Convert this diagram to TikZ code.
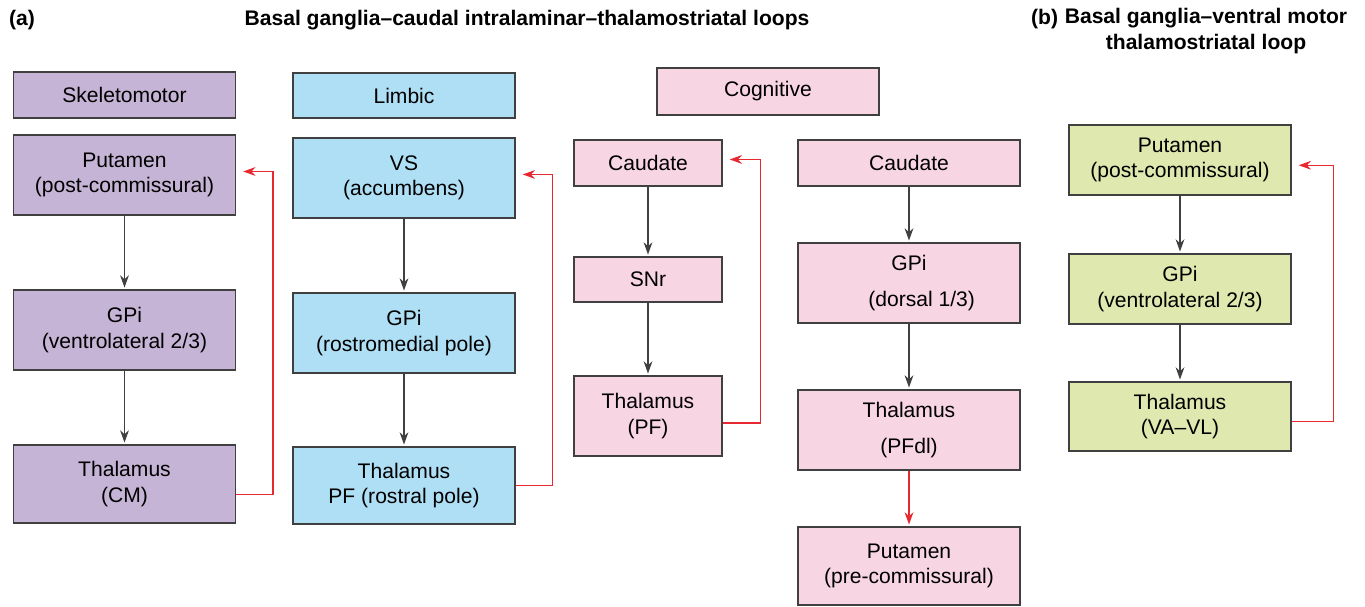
\documentclass[tikz,border=0pt]{standalone}
\usepackage{fontspec}
\setmainfont{Liberation Sans}
\usepackage{tikz}
\usetikzlibrary{positioning, arrows, arrows.meta}

\definecolor{skelcol}{RGB}{198,180,214}
\definecolor{limbcol}{RGB}{175,223,245}
\definecolor{cogcol}{RGB}{248,213,227}
\definecolor{motcol}{RGB}{223,232,174}
\definecolor{loopred}{RGB}{232,40,48}
\definecolor{edgegray}{RGB}{64,64,64}

\tikzset{
    box/.style={draw=edgegray, line width=0.8pt, align=center, inner sep=2pt,
        font=\fontsize{12}{14.5}\selectfont},
    wide/.style={box, minimum width=4.44cm},
    narrow/.style={box, minimum width=2.96cm},
    tall/.style={minimum height=1.6cm},
    short/.style={minimum height=0.92cm},
    down/.style={-{Stealth[length=7pt, width=5pt]}, edgegray, line width=0.7pt, shorten >=1pt},
    loop/.style={-{Stealth[length=7pt, width=5pt]}, loopred, line width=0.8pt, shorten >=4pt},
    ttl/.style={font=\fontsize{12}{15}\selectfont\bfseries, align=center}
}

\begin{document}
\begin{tikzpicture}[x=0.02cm, y=-0.02cm]
        \useasboundingbox (0,0) rectangle (1365,607);
        % titles
        \node[ttl, anchor=west] (tita) at (3,20) {(a)};
        \node[ttl] (titmain) at (527,20) {Basal ganglia--caudal intralaminar--thalamostriatal loops};
        \node[ttl, anchor=west] (titb) at (1025,19) {(b)};
        \node[ttl] (titmot) at (1206,31) {Basal ganglia--ventral motor\\thalamostriatal loop};

        % skeletomotor
        \node[wide, short, fill=skelcol] (skelhdr) at (124.5,95) {Skeletomotor};
        \node[wide, tall, fill=skelcol] (skelput) at (124.5,175) {Putamen\\(post-commissural)};
        \node[wide, tall, fill=skelcol] (skelgpi) at (124.5,330) {GPi\\(ventrolateral 2/3)};
        \node[wide, tall, minimum height=1.56cm, fill=skelcol] (skelthal) at (124.5,484) {Thalamus\\(CM)};
        \draw[down] (skelput) -- (skelgpi);
        \draw[down] (skelgpi) -- (skelthal);
        \draw[loop] ([yshift=-6pt]skelthal.east) -- ++(37,0) |- ([yshift=2pt]skelput.east);

        % limbic
        \node[wide, short, minimum height=0.9cm, fill=limbcol] (limbhdr) at (404,95.5) {Limbic};
        \node[wide, tall, fill=limbcol] (limbvs) at (404,178) {VS\\(accumbens)};
        \node[wide, tall, fill=limbcol] (limbgpi) at (404,333) {GPi\\(rostromedial pole)};
        \node[wide, tall, minimum height=1.54cm, fill=limbcol] (limbthal) at (404,485.5) {Thalamus\\PF (rostral pole)};
        \draw[down] (limbvs) -- (limbgpi);
        \draw[down] (limbgpi) -- (limbthal);
        \draw[loop] (limbthal.east) -- ++(37,0) |- ([yshift=2pt]limbvs.east);

        % cognitive
        \node[wide, short, minimum height=0.94cm, fill=cogcol] (coghdr) at (768,91.5) {Cognitive};
        \node[narrow, short, fill=cogcol] (cogcaudA) at (648,163) {Caudate};
        \node[narrow, short, minimum height=0.9cm, fill=cogcol] (cogsnr) at (648,279.5) {SNr};
        \node[narrow, tall, fill=cogcol] (cogthalA) at (648,416) {Thalamus\\(PF)};
        \draw[down] (cogcaudA) -- (cogsnr);
        \draw[down] (cogsnr) -- (cogthalA);
        \draw[loop] ([yshift=-4pt]cogthalA.east) -- ++(38,0) |- ([yshift=2pt]cogcaudA.east);

        \node[wide, short, fill=cogcol] (cogcaudB) at (909,163) {Caudate};
        \node[wide, tall, fill=cogcol] (coggpi) at (909,283) {GPi\\[6pt]\hspace*{1.2em}(dorsal 1/3)};
        \node[wide, tall, fill=cogcol] (cogthalB) at (909,430) {Thalamus\\[6pt](PFdl)};
        \node[wide, tall, minimum height=1.56cm, fill=cogcol] (cogput) at (909,566) {Putamen\\(pre-commissural)};
        \draw[down] (cogcaudB) -- (coggpi);
        \draw[down] (coggpi) -- (cogthalB);
        \draw[loop, shorten >=1pt] (cogthalB) -- (cogput);

        % ventral motor
        \node[wide, tall, minimum height=1.4cm, fill=motcol] (motput) at (1180,160) {Putamen\\(post-commissural)};
        \node[wide, tall, minimum height=1.4cm, fill=motcol] (motgpi) at (1180,289) {GPi\\(ventrolateral 2/3)};
        \node[wide, tall, minimum height=1.38cm, fill=motcol] (motthal) at (1180,416.5) {Thalamus\\(VA--VL)};
        \draw[down] (motput) -- (motgpi);
        \draw[down] (motgpi) -- (motthal);
        \draw[loop] ([yshift=-3pt]motthal.east) -- ++(42,0) |- ([yshift=-3pt]motput.east);
    \end{tikzpicture}
\end{document}
